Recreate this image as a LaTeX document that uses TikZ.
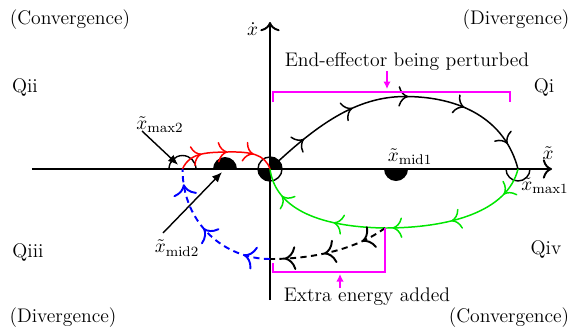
\documentclass[tikz,border=0pt]{standalone}
\usepackage{amsmath,amssymb}
\usepackage{tikz}
\usetikzlibrary{arrows.meta,positioning,calc,decorations.markings}

\definecolor{brmag}{RGB}{255,0,255}
\definecolor{trgreen}{RGB}{0,230,0}
\tikzset{
  flow/.style={postaction={decorate},
    decoration={markings,mark=between positions #1 with {\arrow{To[scale=1.6]}}}},
}

\begin{document}
\begin{tikzpicture}[font=\fontsize{11.2}{13}\selectfont,
    axis/.style={line width=1.1pt,-{To[scale=1.3]}},
    traj/.style={line width=0.85pt},
    jump/.style={line width=1.1pt,dash pattern=on 3.5pt off 2.5pt},
    pointer/.style={line width=0.8pt,-{Latex[length=2mm,width=1.7mm]}},
    bracket/.style={brmag,line width=1pt},
    brarrow/.style={brmag,line width=1pt,-{Latex[length=1.5mm,width=1.5mm]}}]
      \useasboundingbox (-5.4,-3.22) rectangle (6.24,3.38);
      % points on the axis
      \coordinate (O) at (0,0);
      \coordinate (xmaxb) at (-1.75,0);
      \coordinate (xmidb) at (-0.9,0);
      \coordinate (xmida) at (2.52,0);
      \coordinate (xmaxa) at (4.96,0);
      \coordinate (kick) at (2.3,-1.18);
      \coordinate (low) at (0,-1.8);
      % axes
      \draw[axis] (-4.76,0) -- (5.64,0);
      \draw[axis] (0,-2.62) -- (0,2.94);
      \node (xlab) at (5.56,0.32) {$\tilde{x}$};
      \node[left=1pt] (vlab) at (-0.08,2.8) {$\dot{x}$};
      % equilibrium marks
      \draw[line width=0.8pt] (O) circle (0.24);
      \fill (O) -- (0.24,0) arc (0:90:0.24) -- cycle;
      \fill (O) -- (-0.24,0) arc (180:270:0.24) -- cycle;
      \draw[line width=0.8pt] (xmaxb) ++(0.27,0) arc (0:180:0.27);
      \fill (xmidb) ++(0.24,0) arc (0:180:0.24) -- cycle;
      \fill (xmida) ++(0.24,0) arc (0:-180:0.24) -- cycle;
      \draw[line width=0.8pt] (xmaxa) ++(0.24,0) arc (0:-180:0.24);
      % trajectories
      \draw[traj,flow=0.15 and 0.92 step 0.19] (O) .. controls (0.9,0.85) and (1.7,1.45) .. (2.7,1.45)
            .. controls (3.8,1.45) and (4.7,1.0) .. (xmaxa);
      \draw[traj,trgreen,flow=0.1 and 0.92 step 0.2] (xmaxa) .. controls (4.75,-0.85) and (3.6,-1.18) .. (kick)
            .. controls (0.9,-1.16) and (0.1,-0.75) .. (O);
      \draw[jump,flow=0.22 and 0.9 step 0.33] (kick) .. controls (1.8,-1.55) and (1.0,-1.8) .. (low);
      \draw[jump,blue,flow=0.19 and 0.92 step 0.35] (low) .. controls (-0.9,-1.8) and (-1.75,-1.1) .. (xmaxb);
      \draw[traj,red,flow=0.25 and 0.8 step 0.26] (xmaxb) .. controls (-1.6,0.35) and (-1.2,0.33) .. (-0.85,0.34)
            .. controls (-0.4,0.35) and (-0.1,0.3) .. (O);
      % labels of the points
      \node (lmaxb) at (-2.2,0.88) {$\tilde{x}_{\mathrm{max2}}$};
      \node (lmidb) at (-1.86,-1.58) {$\tilde{x}_{\mathrm{mid2}}$};
      \node (lmida) at (2.8,0.24) {$\tilde{x}_{\mathrm{mid1}}$};
      \node (lmaxa) at (5.5,-0.34) {$\tilde{x}_{\mathrm{max1}}$};
      \coordinate (pb) at (-2.56,0.76);
      \coordinate (pm) at (-2.14,-1.28);
      \draw[pointer,shorten >=3.5pt] (pb) -- (xmaxb);
      \draw[pointer,shorten >=2.5pt] (pm) -- (xmidb);
      % perturbation and energy brackets
      \draw[bracket] (0.06,1.34) -- (0.06,1.54) -- (4.8,1.54) -- (4.8,1.34);
      \coordinate (topmid) at (2.34,1.6);
      \node[inner sep=0pt] (pert) at (2.74,2.14) {End-effector being perturbed};
      \draw[brarrow] (pert.south -| topmid) -- (topmid);
      \draw[bracket] (0.06,-1.88) -- (0.06,-2.06) -- (2.3,-2.06) -- (kick);
      \coordinate (botmid) at (1.4,-2.1);
      \node[inner sep=0pt] (extra) at (1.94,-2.56) {Extra energy added};
      \draw[brarrow] (extra.north -| botmid) -- (botmid);
      % quadrants
      \node (qi) at (5.48,1.64) {Qi};
      \node (qii) at (-4.9,1.64) {Qii};
      \node (qiii) at (-4.84,-1.66) {Qiii};
      \node (qiv) at (5.52,-1.6) {Qiv};
      \node (ctl) at (-4.0,2.98) {(Convergence)};
      \node (dtr) at (4.92,2.98) {(Divergence)};
      \node (dbl) at (-4.14,-2.98) {(Divergence)};
      \node (cbr) at (4.78,-2.98) {(Convergence)};
    \end{tikzpicture}
\end{document}
